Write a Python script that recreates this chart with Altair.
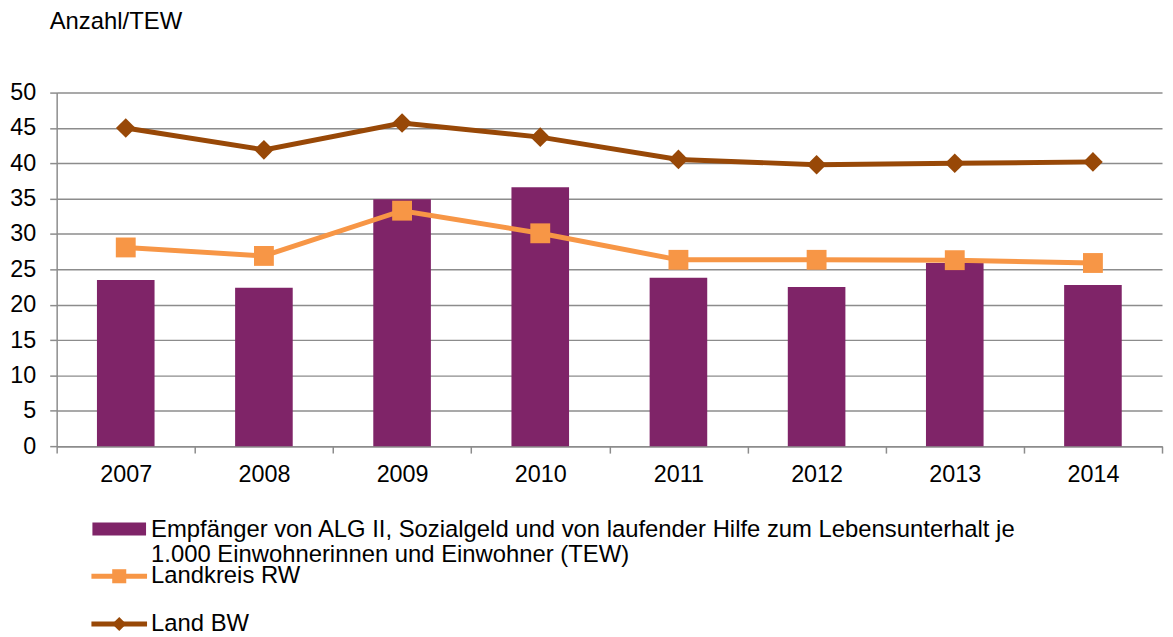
import altair as alt
import pandas as pd

years = ["2007", "2008", "2009", "2010", "2011", "2012", "2013", "2014"]
empfaenger = [23.5, 22.4, 34.9, 36.6, 23.8, 22.5, 25.9, 22.8]
landkreis_rw = [28.1, 26.9, 33.3, 30.1, 26.35, 26.35, 26.3, 25.9]
land_bw = [45.0, 41.9, 45.7, 43.7, 40.55, 39.8, 40.0, 40.2]
y_ticks = [0, 5, 10, 15, 20, 25, 30, 35, 40, 45, 50]

bar_label = "Empfänger von ALG II, Sozialgeld und von laufender Hilfe zum Lebensunterhalt je\n1.000 Einwohnerinnen und Einwohner (TEW)"
legend_labels = [bar_label, "Landkreis RW", "Land BW"]

PURPLE = "#7F2468"
ORANGE = "#F79646"
BROWN = "#984807"
GRID = "#8C8C8C"
FONT = "Liberation Sans"
FS_AXIS = 23.5
FS_TEXT = 24

df = pd.DataFrame({
    "Jahr": years,
    "Empf": empfaenger,
    "RW": landkreis_rw,
    "BW": land_bw,
})

W, H = 1113, 356

xaxis = alt.Axis(title=None, labelAngle=0, labelFontSize=FS_AXIS, labelFont=FONT,
                 labelColor="#000000", labelPadding=10, tickBand="extent",
                 tickSize=7, tickColor=GRID, tickWidth=1.5,
                 domainColor=GRID, domainWidth=1.5, grid=False)
xscale = alt.Scale(paddingInner=0, paddingOuter=0)
yscale = alt.Scale(domain=[0, 50], nice=False)
yaxis = alt.Axis(title=None, values=y_ticks, tickCount=11, labelFontSize=FS_AXIS, labelFont=FONT,
                 labelColor="#000000", labelPadding=14, labelOverlap=False,
                 tickSize=7, tickColor=GRID,
                 tickWidth=1.5, domainColor=GRID, domainWidth=1.5,
                 grid=True, gridColor=GRID, gridWidth=1.5)


def X():
    return alt.X("Jahr:N", sort=years, scale=xscale, axis=xaxis)


def Y(field):
    return alt.Y(field, type="quantitative", scale=yscale, axis=yaxis)


bars = alt.Chart(df).mark_bar(size=58, color=PURPLE).encode(x=X(), y=Y("Empf"))

line_rw = alt.Chart(df).mark_line(color=ORANGE, strokeWidth=5).encode(x=X(), y=Y("RW"))
pts_rw = alt.Chart(df).mark_point(shape="square", size=400, filled=True, color=ORANGE, opacity=1).encode(
    x=X(), y=Y("RW"))

line_bw = alt.Chart(df).mark_line(color=BROWN, strokeWidth=5).encode(x=X(), y=Y("BW"))
pts_bw = alt.Chart(df).mark_point(shape="diamond", size=390, filled=True, color=BROWN, opacity=1).encode(
    x=X(), y=Y("BW"))

# y-axis caption
caption = alt.Chart(pd.DataFrame({"t": ["Anzahl/TEW"]})).mark_text(
    align="left", baseline="middle", fontSize=FS_TEXT, font=FONT, color="#000000"
).encode(text="t:N", x=alt.value(-7), y=alt.value(-71))

# manual legend (below plot area)
leg_rect = alt.Chart(pd.DataFrame({"k": [legend_labels[0]]})).mark_rect(color=PURPLE).encode(
    x=alt.value(36), x2=alt.value(90), y=alt.value(433), y2=alt.value(446))
leg_line_rw = alt.Chart(pd.DataFrame({"k": [legend_labels[1]]})).mark_rule(color=ORANGE, strokeWidth=5).encode(
    x=alt.value(35), x2=alt.value(91), y=alt.value(487))
leg_pt_rw = alt.Chart(pd.DataFrame({"k": [legend_labels[1]]})).mark_point(
    shape="square", size=200, filled=True, color=ORANGE, opacity=1).encode(
    x=alt.value(63), y=alt.value(487))
leg_line_bw = alt.Chart(pd.DataFrame({"k": [legend_labels[2]]})).mark_rule(color=BROWN, strokeWidth=5).encode(
    x=alt.value(35), x2=alt.value(91), y=alt.value(535))
leg_pt_bw = alt.Chart(pd.DataFrame({"k": [legend_labels[2]]})).mark_point(
    shape="diamond", size=200, filled=True, color=BROWN, opacity=1).encode(
    x=alt.value(63), y=alt.value(535))

leg_txt1 = alt.Chart(pd.DataFrame({"t": [legend_labels[0]]})).mark_text(
    align="left", baseline="middle", fontSize=FS_TEXT, font=FONT, color="#000000",
    lineBreak="\n", lineHeight=26).encode(text="t:N", x=alt.value(95), y=alt.value(440))
leg_txt2 = alt.Chart(pd.DataFrame({"t": [legend_labels[1]]})).mark_text(
    align="left", baseline="middle", fontSize=FS_TEXT, font=FONT, color="#000000").encode(
    text="t:N", x=alt.value(95), y=alt.value(487))
leg_txt3 = alt.Chart(pd.DataFrame({"t": [legend_labels[2]]})).mark_text(
    align="left", baseline="middle", fontSize=FS_TEXT, font=FONT, color="#000000").encode(
    text="t:N", x=alt.value(95), y=alt.value(535))

chart = alt.layer(
    bars, line_rw, pts_rw, line_bw, pts_bw, caption,
    leg_rect, leg_line_rw, leg_pt_rw, leg_line_bw, leg_pt_bw,
    leg_txt1, leg_txt2, leg_txt3,
).properties(
    width=W, height=H,
    autosize=alt.AutoSizeParams(type="none"),
    padding={"left": 49, "top": 83, "right": 3, "bottom": 190},
    background="#ffffff",
).configure_view(stroke=None)

chart.save("out.html", embed_options={"renderer": "svg", "actions": False})
